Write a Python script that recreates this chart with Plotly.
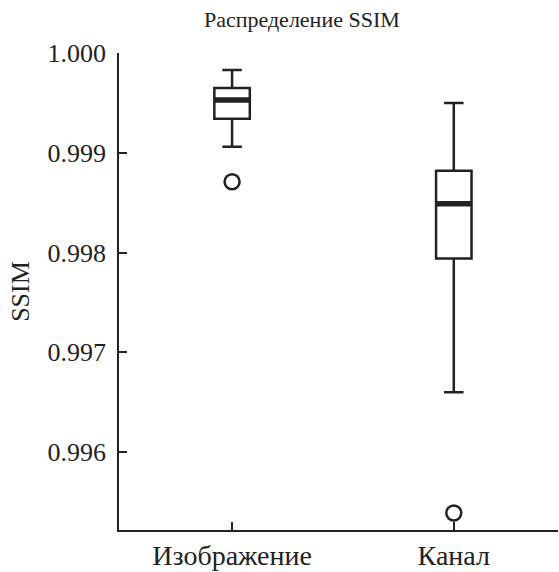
import plotly.graph_objects as go

categories = ["Изображение", "Канал"]
q1 = [0.99934, 0.99794]
median = [0.99953, 0.99849]
q3 = [0.99965, 0.99882]
lower_whisker = [0.99906, 0.99660]
upper_whisker = [0.99983, 0.99950]
outliers = [[0.99871], [0.99539]]

y_ticks = [0.996, 0.997, 0.998, 0.999, 1.000]
y_tick_text = ["0.996", "0.997", "0.998", "0.999", "1.000"]

FONT = "'Liberation Serif', 'Times New Roman', serif"
LINE = "#222222"
BOX_W = 0.16

fig = go.Figure()
for i, cat in enumerate(categories):
    fig.add_trace(go.Box(
        x=[i], q1=[q1[i]], median=[median[i]], q3=[q3[i]],
        lowerfence=[lower_whisker[i]], upperfence=[upper_whisker[i]],
        width=BOX_W, whiskerwidth=0.55,
        fillcolor="rgba(0,0,0,0)", line=dict(color=LINE, width=2.5),
        boxpoints=False, showlegend=False, hoverinfo="skip"))
    # thick median bar
    fig.add_trace(go.Scatter(
        x=[i - BOX_W / 2, i + BOX_W / 2], y=[median[i], median[i]],
        mode="lines", line=dict(color=LINE, width=5.5),
        showlegend=False, hoverinfo="skip"))
    fig.add_trace(go.Scatter(
        x=[i] * len(outliers[i]), y=outliers[i], mode="markers",
        marker=dict(symbol="circle-open", size=15, color=LINE,
                    line=dict(width=2.5, color=LINE)),
        showlegend=False, hoverinfo="skip"))

fig.update_layout(
    width=559, height=572,
    margin=dict(l=119, r=1, t=53, b=35),
    paper_bgcolor="white", plot_bgcolor="white",
    font=dict(family=FONT, size=24, color="#222222"),
    title=dict(text="Распределение SSIM", x=0.54, xanchor="center",
               y=0.967, yanchor="middle", font=dict(family=FONT, size=22)),
)
fig.update_xaxes(
    range=[-0.51, 1.47], tickmode="array", tickvals=[0, 1], ticktext=categories,
    showline=True, linecolor=LINE, linewidth=1.5, ticks="inside", ticklen=8,
    tickcolor=LINE, tickwidth=1.5, showgrid=False, zeroline=False,
    tickfont=dict(family=FONT, size=28))
fig.update_yaxes(
    range=[0.99522, 1.000], tickmode="array", tickvals=y_ticks, ticktext=y_tick_text,
    showline=True, linecolor=LINE, linewidth=1.5, ticks="inside", ticklen=8,
    tickcolor=LINE, tickwidth=1.5, showgrid=False, zeroline=False,
    ticklabelstandoff=6,
    title=dict(text="SSIM", font=dict(family=FONT, size=26), standoff=10),
    tickfont=dict(family=FONT, size=26))

fig.write_html("out.html")
